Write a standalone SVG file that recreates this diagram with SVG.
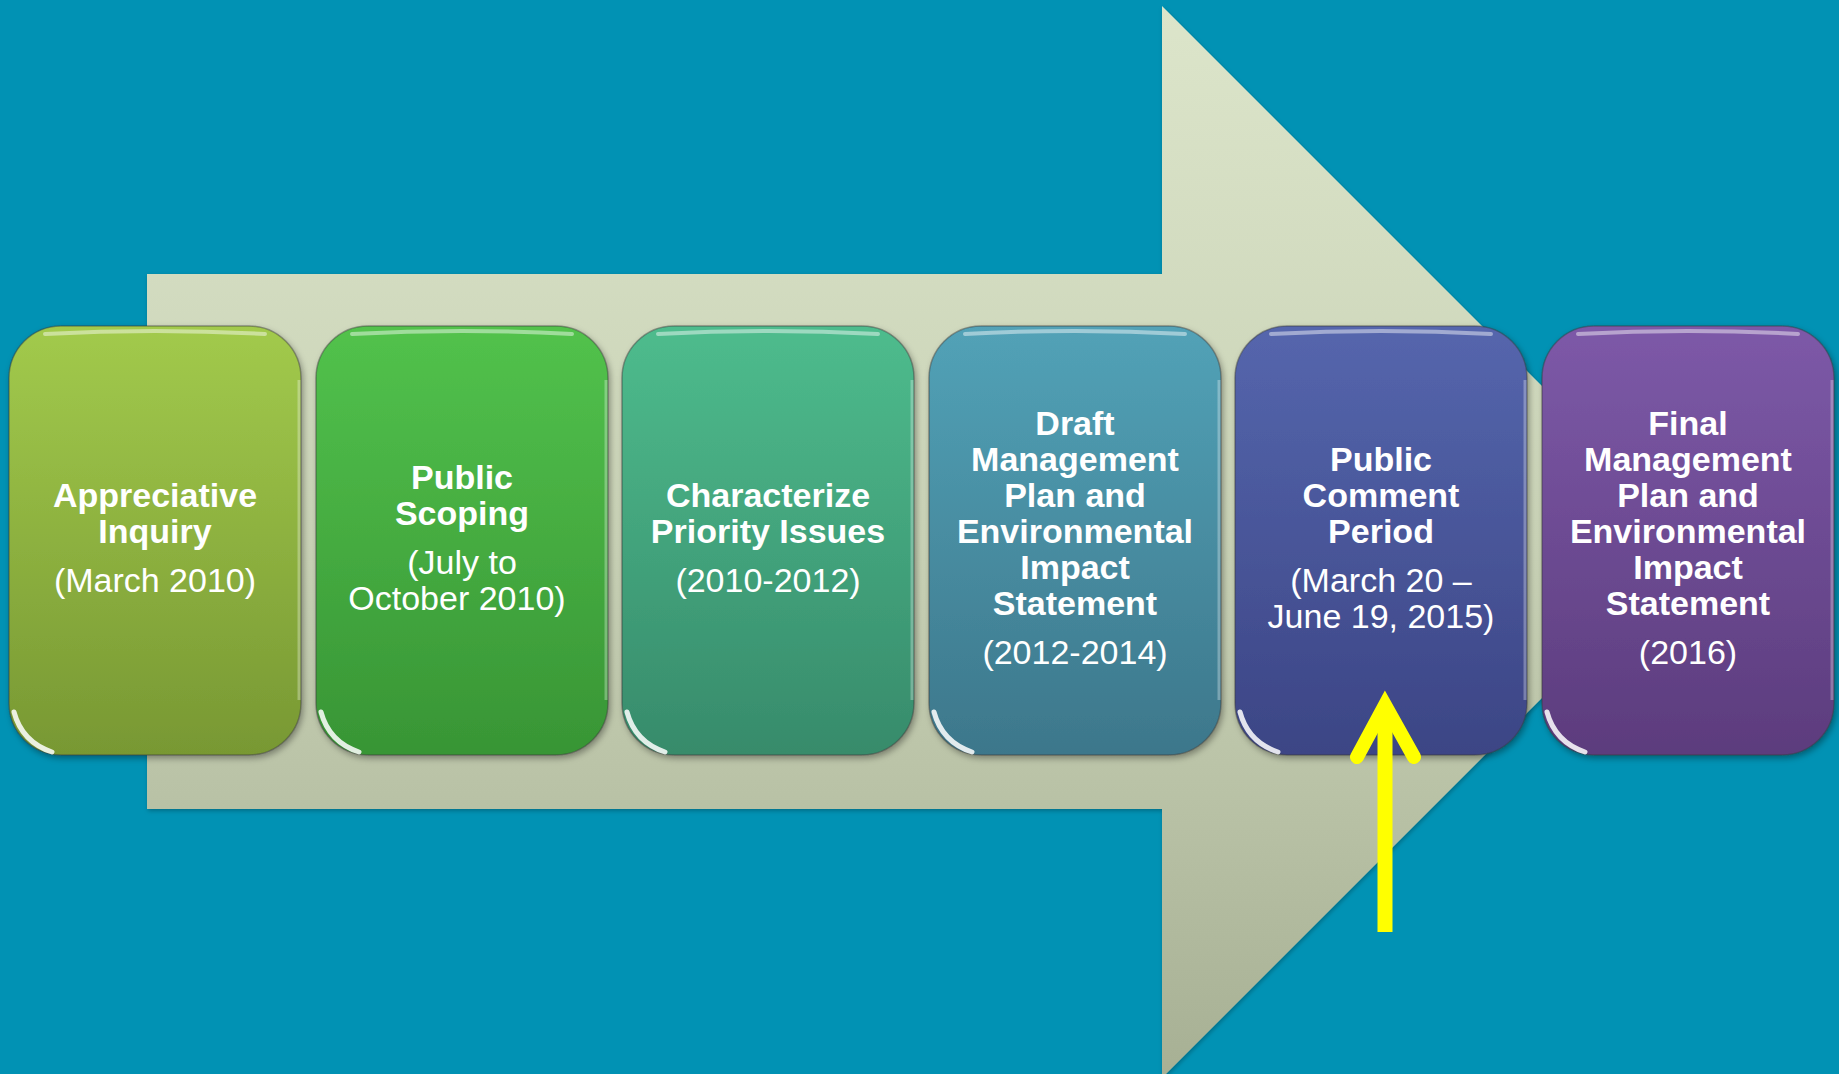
<svg xmlns="http://www.w3.org/2000/svg" width="1839" height="1074" viewBox="0 0 1839 1074">
<defs>
<linearGradient id="gArrow" gradientUnits="userSpaceOnUse" x1="0" y1="6" x2="0" y2="1078">
<stop offset="0" stop-color="#DCE5CA"/>
<stop offset="0.5" stop-color="#C9D2B6"/>
<stop offset="1" stop-color="#A7B094"/>
</linearGradient>
<linearGradient id="g1" x1="0" y1="0" x2="0" y2="1"><stop offset="0" stop-color="#A2CA4C"/><stop offset="1" stop-color="#789833"/></linearGradient>
<linearGradient id="g2" x1="0" y1="0" x2="0" y2="1"><stop offset="0" stop-color="#52C24C"/><stop offset="1" stop-color="#389535"/></linearGradient>
<linearGradient id="g3" x1="0" y1="0" x2="0" y2="1"><stop offset="0" stop-color="#4EBC8D"/><stop offset="1" stop-color="#378B6B"/></linearGradient>
<linearGradient id="g4" x1="0" y1="0" x2="0" y2="1"><stop offset="0" stop-color="#52A2B7"/><stop offset="1" stop-color="#3D778B"/></linearGradient>
<linearGradient id="g5" x1="0" y1="0" x2="0" y2="1"><stop offset="0" stop-color="#5566AD"/><stop offset="1" stop-color="#3C4585"/></linearGradient>
<linearGradient id="g6" x1="0" y1="0" x2="0" y2="1"><stop offset="0" stop-color="#7D59A8"/><stop offset="1" stop-color="#5C3C7D"/></linearGradient>
<filter id="sh" x="-10%" y="-10%" width="120%" height="120%">
<feDropShadow dx="2" dy="3" stdDeviation="3" flood-color="#000" flood-opacity="0.35"/>
</filter>
<filter id="ash" x="-5%" y="-5%" width="110%" height="110%">
<feDropShadow dx="1" dy="2" stdDeviation="2" flood-color="#000" flood-opacity="0.25"/>
</filter>
<style>
.box{stroke:#3a3a3a;stroke-opacity:0.45;stroke-width:1.5;filter:url(#sh)}
.hl{fill:none;stroke:#fff;stroke-opacity:0.45;stroke-width:4;stroke-linecap:round}
.hr{fill:none;stroke:#fff;stroke-opacity:0.3;stroke-width:3}
.cr{fill:none;stroke:#fff;stroke-opacity:0.85;stroke-width:5;stroke-linecap:round}
.t{font-family:"Liberation Sans",Arial,sans-serif;font-weight:bold;font-size:34px;fill:#fff;text-anchor:middle}
.d{font-weight:normal}
</style>
</defs>
<rect x="0" y="0" width="1839" height="1074" fill="#0192B4"/>
<g id="big-arrow">
<polygon points="147,274 1162,274 1162,6 1698,542 1162,1078 1162,809 147,809" fill="url(#gArrow)" filter="url(#ash)"/>
</g>
<g id="node1">
<rect class="box" x="9" y="326" width="292" height="429" rx="52" fill="url(#g1)"/>
<path class="hl" d="M45,334 Q155,328 265,334"/>
<path class="hr" d="M299,380 L299,700"/>
<path class="cr" d="M14,712 Q22,742 52,752"/>
<text class="t" x="155" y="507">Appreciative</text>
<text class="t" x="155" y="543">Inquiry</text>
<text class="t d" x="155" y="592">(March 2010)</text>
</g>
<g id="node2">
<rect class="box" x="316" y="326" width="292" height="429" rx="52" fill="url(#g2)"/>
<path class="hl" d="M352,334 Q462,328 572,334"/>
<path class="hr" d="M606,380 L606,700"/>
<path class="cr" d="M321,712 Q329,742 359,752"/>
<text class="t" x="462" y="489">Public</text>
<text class="t" x="462" y="525">Scoping</text>
<text class="t d" x="462" y="574">(July to</text>
<text class="t d" x="457" y="610">October 2010)</text>
</g>
<g id="node3">
<rect class="box" x="622" y="326" width="292" height="429" rx="52" fill="url(#g3)"/>
<path class="hl" d="M658,334 Q768,328 878,334"/>
<path class="hr" d="M912,380 L912,700"/>
<path class="cr" d="M627,712 Q635,742 665,752"/>
<text class="t" x="768" y="507">Characterize</text>
<text class="t" x="768" y="543">Priority Issues</text>
<text class="t d" x="768" y="592">(2010-2012)</text>
</g>
<g id="node4">
<rect class="box" x="929" y="326" width="292" height="429" rx="52" fill="url(#g4)"/>
<path class="hl" d="M965,334 Q1075,328 1185,334"/>
<path class="hr" d="M1219,380 L1219,700"/>
<path class="cr" d="M934,712 Q942,742 972,752"/>
<text class="t" x="1075" y="435">Draft</text>
<text class="t" x="1075" y="471">Management</text>
<text class="t" x="1075" y="507">Plan and</text>
<text class="t" x="1075" y="543">Environmental</text>
<text class="t" x="1075" y="579">Impact</text>
<text class="t" x="1075" y="615">Statement</text>
<text class="t d" x="1075" y="664">(2012-2014)</text>
</g>
<g id="node5">
<rect class="box" x="1235" y="326" width="292" height="429" rx="52" fill="url(#g5)"/>
<path class="hl" d="M1271,334 Q1381,328 1491,334"/>
<path class="hr" d="M1525,380 L1525,700"/>
<path class="cr" d="M1240,712 Q1248,742 1278,752"/>
<text class="t" x="1381" y="471">Public</text>
<text class="t" x="1381" y="507">Comment</text>
<text class="t" x="1381" y="543">Period</text>
<text class="t d" x="1381" y="592">(March 20 –</text>
<text class="t d" x="1381" y="628">June 19, 2015)</text>
</g>
<g id="node6">
<rect class="box" x="1542" y="326" width="292" height="429" rx="52" fill="url(#g6)"/>
<path class="hl" d="M1578,334 Q1688,328 1798,334"/>
<path class="hr" d="M1832,380 L1832,700"/>
<path class="cr" d="M1547,712 Q1555,742 1585,752"/>
<text class="t" x="1688" y="435">Final</text>
<text class="t" x="1688" y="471">Management</text>
<text class="t" x="1688" y="507">Plan and</text>
<text class="t" x="1688" y="543">Environmental</text>
<text class="t" x="1688" y="579">Impact</text>
<text class="t" x="1688" y="615">Statement</text>
<text class="t d" x="1688" y="664">(2016)</text>
</g>
<g id="connectors">
<path d="M1385,932 L1385,708" fill="none" stroke="#FFFF00" stroke-width="15"/>
<path d="M1357,757 L1385,705 L1414,757" fill="none" stroke="#FFFF00" stroke-width="14" stroke-linecap="round" stroke-linejoin="miter"/>
</g>
</svg>
